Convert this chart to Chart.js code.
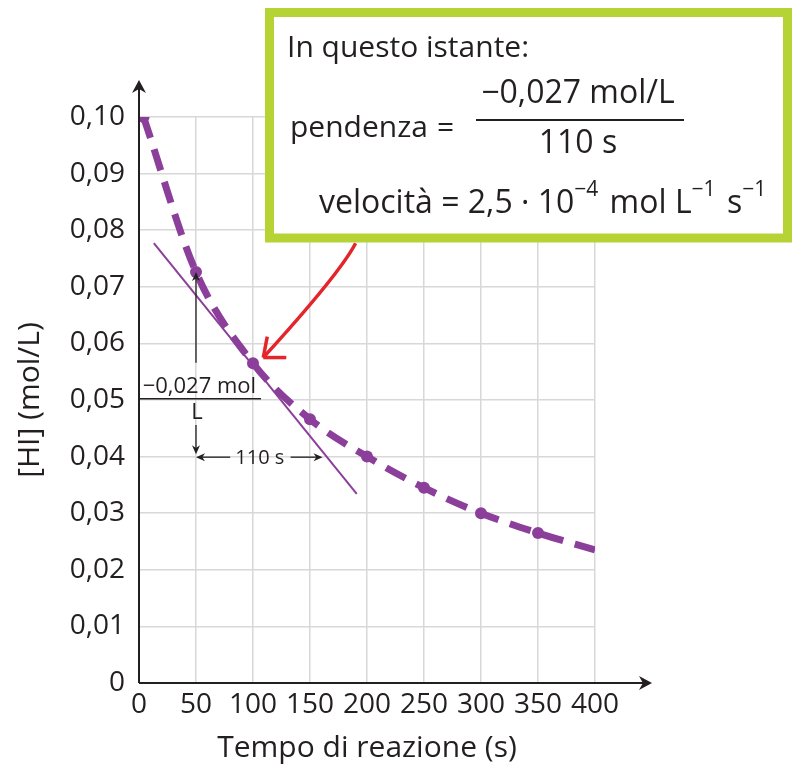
<!DOCTYPE html>
<html>
<head>
<meta charset="utf-8">
<script src="https://cdn.jsdelivr.net/npm/chart.js@4.4.1/dist/chart.umd.min.js"></script>
<style>
  html, body { margin: 0; padding: 0; background: #fff; }
  #wrap { width: 792px; height: 766px; }
</style>
</head>
<body>
<div id="wrap"><canvas id="myChart" width="792" height="766"></canvas></div>
<script>
// data
var times = [4, 50, 100, 150, 200, 250, 300, 350, 400];
var hiConc = [0.100, 0.0726, 0.0565, 0.0466, 0.0400, 0.0345, 0.0300, 0.0265, 0.0235];
var markerSize = [6, 6, 6, 6, 6, 6, 6, 6, 0];
var tangentTimes = [13, 191];
var tangentConc = [0.0777, 0.0334];
var xTickValues = [0, 50, 100, 150, 200, 250, 300, 350, 400];
var xTickLabels = ['0', '50', '100', '150', '200', '250', '300', '350', '400'];
var yTickValues = [0, 0.01, 0.02, 0.03, 0.04, 0.05, 0.06, 0.07, 0.08, 0.09, 0.10];
var yTickLabels = ['0', '0,01', '0,02', '0,03', '0,04', '0,05', '0,06', '0,07', '0,08', '0,09', '0,10'];

var ink = '#231f20';
var purple = '#8c3f9a';
var red = '#e4252b';
var lime = '#b5d334';
var fontFam = '"Open Sans", "Noto Sans", sans-serif';

function arrowHead(ctx, x, y, ang, len, w) {
    ctx.save();
    ctx.translate(x, y);
    ctx.rotate(ang);
    ctx.beginPath();
    ctx.moveTo(0, 0);
    ctx.lineTo(-len, -w);
    ctx.lineTo(-len * 0.7, 0);
    ctx.lineTo(-len, w);
    ctx.closePath();
    ctx.fill();
    ctx.restore();
}

function line(ctx, x1, y1, x2, y2) {
    ctx.beginPath();
    ctx.moveTo(x1, y1);
    ctx.lineTo(x2, y2);
    ctx.stroke();
}

var extras = {
    id: 'extras',
    afterDraw: function (chart) {
        var ctx = chart.ctx;
        var sx = chart.scales.x, sy = chart.scales.y;
        var px = function (v) { return sx.getPixelForValue(v); };
        var py = function (v) { return sy.getPixelForValue(v); };
        ctx.save();

        // axes with arrows
        ctx.strokeStyle = ink;
        ctx.fillStyle = ink;
        ctx.lineWidth = 2;
        var x0 = px(0), y0 = py(0);
        var yTip = py(0.10) - 37, xTip = px(400) + 57;
        line(ctx, x0, y0, x0, yTip + 6);
        line(ctx, x0, y0, xTip - 6, y0);
        arrowHead(ctx, x0, yTip, -Math.PI / 2, 13, 7);
        arrowHead(ctx, xTip, y0, 0, 13, 7);

        // tangent annotation: -0,027 mol/L over 110 s
        ctx.lineWidth = 1.3;
        var ax = px(50);
        line(ctx, ax, py(0.0726) + 4, ax, py(0.0566));
        arrowHead(ctx, ax, py(0.0726), -Math.PI / 2, 9, 4);
        line(ctx, ax, py(0.0456), ax, py(0.0404) - 4);
        arrowHead(ctx, ax, py(0.0404), Math.PI / 2, 9, 4);
        ctx.lineWidth = 1.5;
        line(ctx, px(0), py(0.0502), px(107), py(0.0502));
        ctx.font = '22px ' + fontFam;
        ctx.textAlign = 'center';
        ctx.textBaseline = 'alphabetic';
        ctx.fillText('\u22120,027 mol', px(53), py(0.0513));
        ctx.fillText('L', ax + 1, py(0.0466));
        ctx.lineWidth = 1.3;
        var hy = py(0.0399);
        line(ctx, ax + 4, hy, px(80), hy);
        line(ctx, px(133), hy, px(161) - 4, hy);
        arrowHead(ctx, ax, hy, Math.PI, 9, 4);
        arrowHead(ctx, px(161), hy, 0, 9, 4);
        ctx.font = '20px ' + fontFam;
        ctx.fillText('110 s', px(106), hy + 7);

        // red curved arrow from the box to the point at 100 s
        ctx.strokeStyle = red;
        ctx.lineWidth = 3.5;
        var tx = px(109), ty = py(0.0575);
        ctx.beginPath();
        ctx.moveTo(px(190), py(0.0777));
        ctx.quadraticCurveTo(px(176), py(0.0723), tx, ty);
        ctx.stroke();
        line(ctx, tx, ty, tx + 4, ty - 21);
        line(ctx, tx, ty, tx + 23, ty);

        // text box
        ctx.fillStyle = '#ffffff';
        ctx.fillRect(270, 12, 518, 226);
        ctx.strokeStyle = lime;
        ctx.lineWidth = 9;
        ctx.strokeRect(269.5, 12.5, 518, 225.5);

        ctx.fillStyle = ink;
        ctx.textAlign = 'left';
        ctx.font = '30px ' + fontFam;
        ctx.fillText('In questo istante:', 287, 57);
        ctx.fillText('pendenza', 290, 137);
        ctx.fillText('=', 437, 137);
        ctx.textAlign = 'center';
        ctx.font = '32px ' + fontFam;
        ctx.fillText('\u22120,027 mol/L', 578, 103);
        ctx.fillRect(476, 119, 208, 2);
        ctx.fillText('110 s', 578, 153);
        ctx.textAlign = 'left';
        var parts = [['velocit\u00e0 = 2,5 \u00b7 10', 0], ['\u22124', 1], [' mol L', 0], ['\u22121', 1], [' s', 0], ['\u22121', 1]];
        var cx = 319;
        parts.forEach(function (p) {
            ctx.font = (p[1] ? '21px ' : '32px ') + fontFam;
            ctx.fillText(p[0], cx, p[1] ? 196 : 213);
            cx += ctx.measureText(p[0]).width + (p[1] ? 3 : 0);
        });
        ctx.restore();
    }
};

var chart1 = document.getElementById('myChart');
var myChart = new Chart(chart1, {
    type: 'line',
    data: {
        datasets: [{
            label: '[HI]',
            data: times.map(function (t, i) { return { x: t, y: hiConc[i] }; }),
            borderColor: purple,
            backgroundColor: purple,
            borderWidth: 7,
            borderDash: [22, 12],
            borderCapStyle: 'butt',
            cubicInterpolationMode: 'monotone',
            pointRadius: markerSize,
            pointBorderWidth: 0,
            order: 1
        }, {
            label: 'tangente',
            data: tangentTimes.map(function (t, i) { return { x: t, y: tangentConc[i] }; }),
            borderColor: purple,
            borderWidth: 2,
            pointRadius: 0,
            order: 2
        }]
    },
    options: {
        responsive: false,
        animation: false,
        events: [],
        layout: { padding: { top: 117, right: 197, left: 0, bottom: 0 } },
        plugins: { legend: { display: false }, tooltip: { enabled: false } },
        scales: {
            x: {
                type: 'linear',
                min: 0,
                max: 400,
                afterFit: function (s) { s.height = 83; },
                afterBuildTicks: function (s) { s.ticks = xTickValues.map(function (v) { return { value: v }; }); },
                grid: { color: '#d8d8d8', lineWidth: 1.5, drawTicks: false },
                border: { display: false },
                ticks: {
                    padding: 5,
                    color: ink,
                    font: { family: fontFam, size: 28 },
                    maxRotation: 0,
                    callback: function (v, i) { return xTickLabels[i]; }
                },
                title: {
                    display: true,
                    text: 'Tempo di reazione (s)',
                    color: ink,
                    font: { family: fontFam, size: 30 },
                    padding: { top: 0, bottom: 0 }
                }
            },
            y: {
                type: 'linear',
                min: 0,
                max: 0.1,
                afterFit: function (s) { s.width = 139; },
                afterBuildTicks: function (s) { s.ticks = yTickValues.map(function (v) { return { value: v }; }); },
                grid: { color: '#d8d8d8', lineWidth: 1.5, drawTicks: false },
                border: { display: false },
                ticks: {
                    padding: 14,
                    color: ink,
                    font: { family: fontFam, size: 28 },
                    callback: function (v, i) { return yTickLabels[i]; }
                },
                title: {
                    display: true,
                    text: '[HI] (mol/L)',
                    color: ink,
                    font: { family: fontFam, size: 30 },
                    padding: { top: 12, bottom: 0 }
                }
            }
        }
    },
    plugins: [extras]
});
</script>
</body>
</html>
